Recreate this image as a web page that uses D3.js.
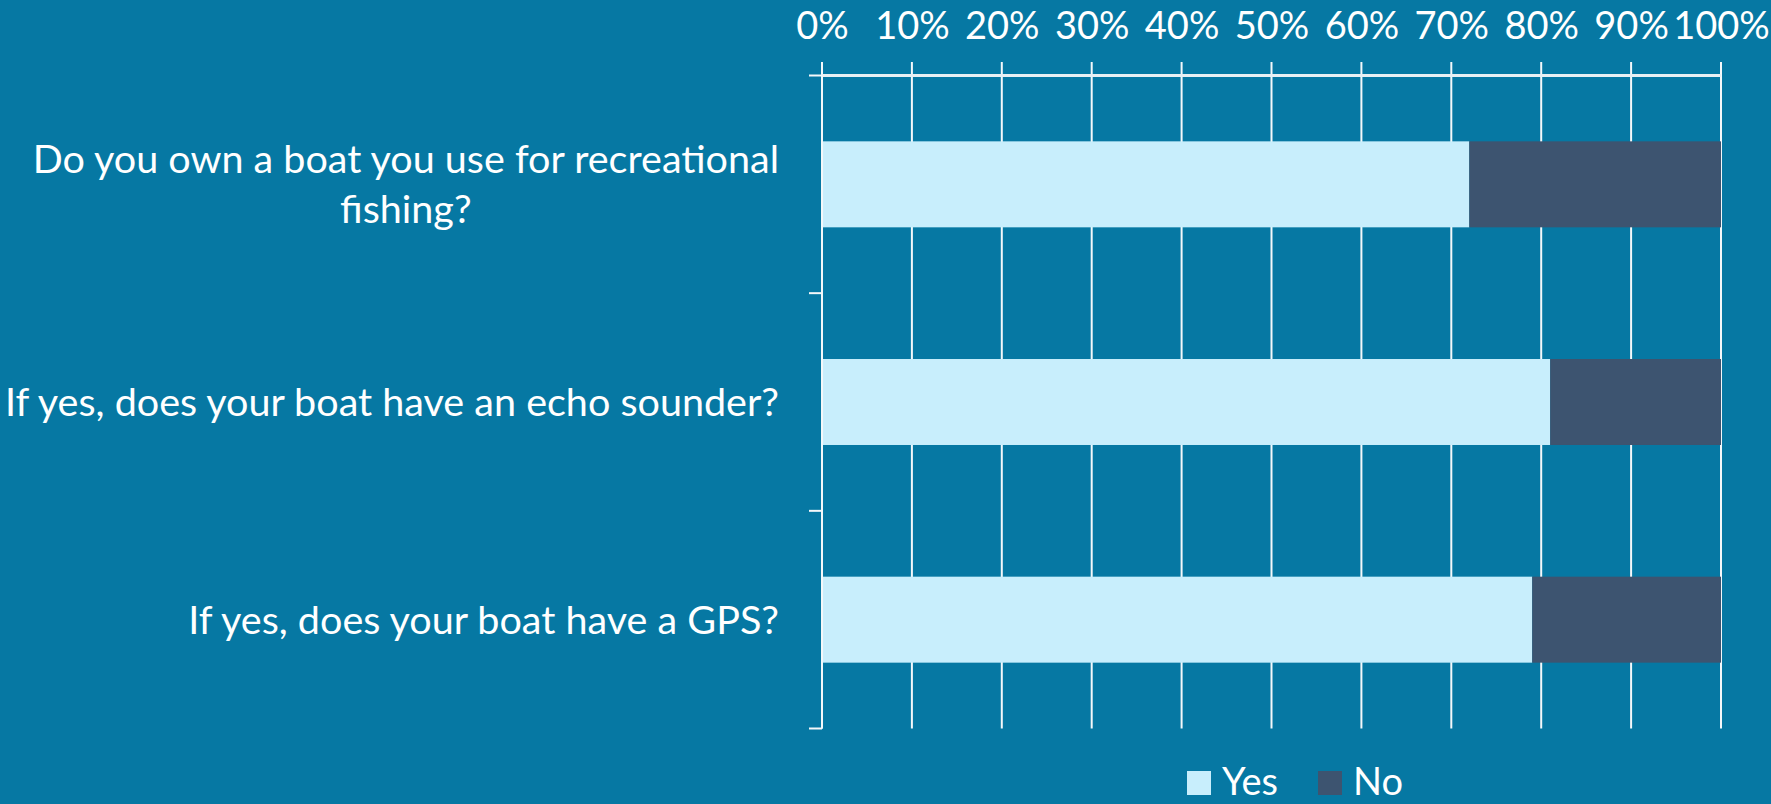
<!DOCTYPE html>
<html>
<head>
<meta charset="utf-8">
<script src="https://cdn.jsdelivr.net/npm/d3@7"></script>
<style>
  html, body { margin: 0; padding: 0; background: #0678a3; overflow: hidden; }
  svg { display: block; }
  text { font-family: Lato, "Open Sans", sans-serif; fill: #ffffff; }
</style>
</head>
<body>
<svg id="chart" width="1771" height="804"></svg>
<script>
// Survey questions (top to bottom)
const categories = [
  "Do you own a boat you use for recreational fishing?",
  "If yes, does your boat have an echo sounder?",
  "If yes, does your boat have a GPS?"
];
// Share of answers per question
const yesValues = [0.72, 0.81, 0.79];
const noValues  = [0.28, 0.19, 0.21];
const seriesNames = ["Yes", "No"];
const tickValues = [0, 0.1, 0.2, 0.3, 0.4, 0.5, 0.6, 0.7, 0.8, 0.9, 1.0];

// Wrapped label lines per question
const labelLines = [
  ["Do you own a boat you use for recreational", "fishing?"],
  ["If yes, does your boat have an echo sounder?"],
  ["If yes, does your boat have a GPS?"]
];

const colors = { Yes: "#c8eefc", No: "#3d5470" };
const fontSize = 39.5;

const svg = d3.select("#chart");

const x = d3.scaleLinear().domain([0, 1]).range([822, 1721]);
const y = d3.scaleBand()
  .domain(categories)
  .range([75.5, 728.5])
  .paddingInner(0.605)
  .paddingOuter(0.3025);

// Gridlines (extend above the top axis line as tick marks)
svg.append("g")
  .selectAll("line")
  .data(tickValues)
  .join("line")
  .attr("x1", d => x(d)).attr("x2", d => x(d))
  .attr("y1", 62).attr("y2", 728.5)
  .attr("stroke", "#f4f8fa")
  .attr("stroke-width", 2);

// Top tick labels
const xAxis = d3.axisTop(x)
  .tickValues(tickValues)
  .tickFormat(d3.format(".0%"))
  .tickSize(0)
  .tickPadding(0);
const gx = svg.append("g")
  .attr("transform", "translate(0,38.5)")
  .call(xAxis);
gx.select(".domain").remove();
gx.selectAll("text")
  .attr("fill", "#ffffff")
  .style("font-size", "38px")
  .style("font-family", "Lato, 'Open Sans', sans-serif");

// Stacked bars
const stackData = categories.map((c, i) => ({ cat: c, Yes: yesValues[i], No: noValues[i] }));
const stacked = d3.stack().keys(seriesNames)(stackData);

svg.append("g")
  .selectAll("g")
  .data(stacked)
  .join("g")
  .attr("fill", d => colors[d.key])
  .selectAll("rect")
  .data(d => d)
  .join("rect")
  .attr("x", d => x(d[0]))
  .attr("width", d => x(d[1]) - x(d[0]))
  .attr("y", d => y(d.data.cat))
  .attr("height", y.bandwidth());

// Axis lines
const yTop = y.range()[0], yBottom = y.range()[1];
svg.append("line")
  .attr("x1", x(0) - 1).attr("x2", x(1))
  .attr("y1", yTop).attr("y2", yTop)
  .attr("stroke", "#e8f0f4").attr("stroke-width", 3);
svg.append("line")
  .attr("x1", x(0)).attr("x2", x(0))
  .attr("y1", yTop).attr("y2", yBottom)
  .attr("stroke", "#f4f8fa").attr("stroke-width", 2);

// Category boundary ticks on the left axis
const boundaries = d3.range(categories.length + 1).map(i => yTop + i * y.step());
svg.append("g")
  .selectAll("line")
  .data(boundaries)
  .join("line")
  .attr("x1", x(0) - 13).attr("x2", x(0))
  .attr("y1", d => d).attr("y2", d => d)
  .attr("stroke", "#f4f8fa").attr("stroke-width", 2);

// Category labels, right aligned block with centred wrapped lines
const lineHeight = 50;
const labelRight = 779;
categories.forEach((c, i) => {
  const lines = labelLines[i];
  const cy = y(c) + y.bandwidth() / 2;
  const g = svg.append("g");
  const texts = lines.map((ln, j) => g.append("text")
    .attr("y", cy + 14 + (j - (lines.length - 1) / 2) * lineHeight)
    .attr("text-anchor", "middle")
    .style("font-size", fontSize + "px")
    .text(ln));
  const widths = texts.map(t => t.node().getComputedTextLength());
  const maxW = d3.max(widths);
  texts.forEach(t => t.attr("x", labelRight - maxW / 2));
});

// Legend
const legend = svg.append("g").attr("transform", "translate(1187,771)");
const legendItems = [
  { key: "Yes", x: 0 },
  { key: "No", x: 131 }
];
legendItems.forEach(it => {
  legend.append("rect")
    .attr("x", it.x).attr("y", 0)
    .attr("width", 24).attr("height", 24)
    .attr("fill", colors[it.key]);
  legend.append("text")
    .attr("x", it.x + 35).attr("y", 24)
    .style("font-size", "38px")
    .text(it.key);
});
</script>
</body>
</html>
